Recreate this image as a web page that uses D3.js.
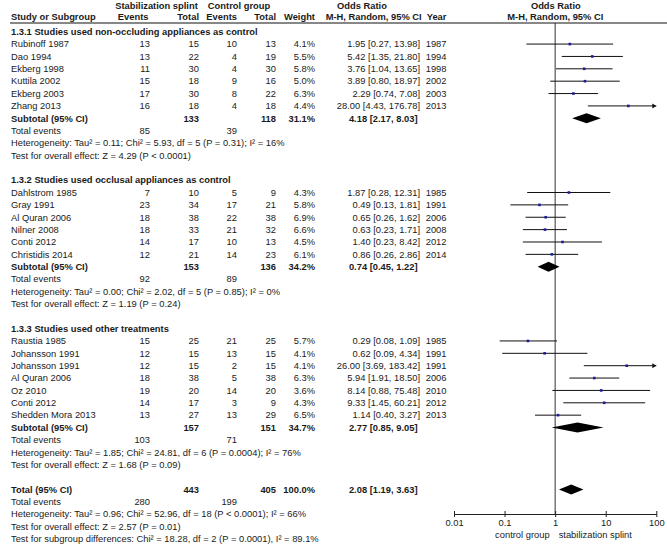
<!DOCTYPE html>
<html><head><meta charset="utf-8">
<script src="https://cdn.jsdelivr.net/npm/d3@7"></script>
<style>
body{margin:0;background:#fff;}
svg text{font-family:"Liberation Sans",Arial,Helvetica,sans-serif;font-size:9.35px;fill:#1a1a1a;}
svg text.b{font-weight:bold;}
</style></head><body>
<svg id="c" width="667" height="549"></svg>
<script>
// ---------- data ----------
const groupTitles = [
  "1.3.1 Studies used non-occluding appliances as control",
  "1.3.2 Studies used occlusal appliances as control",
  "1.3.3 Studies used other treatments"
];
const studyNames = [
  ["Rubinoff 1987","Dao 1994","Ekberg 1998","Kuttila 2002","Ekberg 2003","Zhang 2013"],
  ["Dahlstrom 1985","Gray 1991","Al Quran 2006","Nilner 2008","Conti 2012","Christidis 2014"],
  ["Raustia 1985","Johansson 1991","Johansson 1991","Al Quran 2006","Oz 2010","Conti 2012","Shedden Mora 2013"]
];
const studyYears = [
  ["1987","1994","1998","2002","2003","2013"],
  ["1985","1991","2006","2008","2012","2014"],
  ["1985","1991","1991","2006","2010","2012","2013"]
];
const splintEvents  = [[13,13,11,15,17,16],[7,23,18,18,14,12],[15,12,12,18,19,14,13]];
const splintTotals  = [[15,22,30,18,30,18],[10,34,38,33,17,21],[25,15,15,38,20,17,27]];
const controlEvents = [[10,4,4,9,8,4],[5,17,22,21,10,14],[21,13,2,5,14,3,13]];
const controlTotals = [[13,19,30,16,22,18],[9,21,38,32,13,23],[25,15,15,38,20,9,29]];
const weights = [
  ["4.1%","5.5%","5.8%","5.0%","6.3%","4.4%"],
  ["4.3%","5.8%","6.9%","6.6%","4.5%","6.1%"],
  ["5.7%","4.1%","4.1%","6.3%","3.6%","4.3%","6.5%"]
];
const oddsRatio = [[1.95,5.42,3.76,3.89,2.29,28.00],[1.87,0.49,0.65,0.63,1.40,0.86],[0.29,0.62,26.00,5.94,8.14,9.33,1.14]];
const ciLower   = [[0.27,1.35,1.04,0.80,0.74,4.43],[0.28,0.13,0.26,0.23,0.23,0.26],[0.08,0.09,3.69,1.91,0.88,1.45,0.40]];
const ciUpper   = [[13.98,21.80,13.65,18.97,7.08,176.78],[12.31,1.81,1.62,1.71,8.42,2.86],[1.09,4.34,183.42,18.50,75.48,60.21,3.27]];

const subtotalSplint  = [133,153,157];
const subtotalControl = [118,136,151];
const subtotalWeight  = ["31.1%","34.2%","34.7%"];
const subtotalOR      = [4.18,0.74,2.77];
const subtotalLower   = [2.17,0.45,0.85];
const subtotalUpper   = [8.03,1.22,9.05];
const totalEventsSplint  = [85,92,103];
const totalEventsControl = [39,89,71];
const heterogeneityText = [
  "Heterogeneity: Tau² = 0.11; Chi² = 5.93, df = 5 (P = 0.31); I² = 16%",
  "Heterogeneity: Tau² = 0.00; Chi² = 2.02, df = 5 (P = 0.85); I² = 0%",
  "Heterogeneity: Tau² = 1.85; Chi² = 24.81, df = 6 (P = 0.0004); I² = 76%"
];
const overallEffectText = [
  "Test for overall effect: Z = 4.29 (P < 0.0001)",
  "Test for overall effect: Z = 1.19 (P = 0.24)",
  "Test for overall effect: Z = 1.68 (P = 0.09)"
];
const totalSplint = 443, totalControl = 405, totalWeight = "100.0%";
const totalOR = 2.08, totalLower = 1.19, totalUpper = 3.63;
const totalEvents = [280,199];
const totalHeterogeneity = "Heterogeneity: Tau² = 0.96; Chi² = 52.96, df = 18 (P < 0.0001); I² = 66%";
const totalOverallEffect = "Test for overall effect: Z = 2.57 (P = 0.01)";
const subgroupDifferences = "Test for subgroup differences: Chi² = 18.28, df = 2 (P = 0.0001), I² = 89.1%";
const tickValues = [0.01,0.1,1,10,100];
const tickLabels = ["0.01","0.1","1","10","100"];
const axisLabels = ["control group","stabilization splint"];

// ---------- build rows ----------
const rows = [];
groupTitles.forEach((t,g)=>{
  rows.push({type:"group",label:t});
  studyNames[g].forEach((n,i)=>rows.push({type:"study",label:n,year:studyYears[g][i],
    e1:splintEvents[g][i],n1:splintTotals[g][i],e2:controlEvents[g][i],n2:controlTotals[g][i],
    w:weights[g][i],or:oddsRatio[g][i],lo:ciLower[g][i],hi:ciUpper[g][i]}));
  rows.push({type:"sub",label:"Subtotal (95% CI)",n1:subtotalSplint[g],n2:subtotalControl[g],w:subtotalWeight[g],
    or:subtotalOR[g],lo:subtotalLower[g],hi:subtotalUpper[g]});
  rows.push({type:"te",label:"Total events",e1:totalEventsSplint[g],e2:totalEventsControl[g]});
  rows.push({type:"text",label:heterogeneityText[g]});
  rows.push({type:"text",label:overallEffectText[g]});
  rows.push({type:"blank"});
});
rows.push({type:"sub",label:"Total (95% CI)",n1:totalSplint,n2:totalControl,w:totalWeight,or:totalOR,lo:totalLower,hi:totalUpper});
rows.push({type:"te",label:"Total events",e1:totalEvents[0],e2:totalEvents[1]});
rows.push({type:"text",label:totalHeterogeneity});
rows.push({type:"text",label:totalOverallEffect});
rows.push({type:"text",label:subgroupDifferences});

// ---------- scales ----------
const y = d3.scaleLinear().domain([0,1]).range([31.7,44.07]);
const x = d3.scaleLog().domain([0.01,100]).range([454,656.3]);
const BL = 3.3; // baseline offset from row centre
const col = {label:11, e1:150, n1:199, e2:237, n2:276, w:315, ci:420, ciB:417.5, year:425.7};
const fmt = v=>v.toFixed(2);
const ciText = r=>`${fmt(r.or)} [${fmt(r.lo)}, ${fmt(r.hi)}]`;

const svg = d3.select("#c");
const txt = (xx,yy,s,anchor,bold)=>svg.append("text").attr("x",xx).attr("y",yy)
  .attr("text-anchor",anchor||"start").attr("class",bold?"b":null).text(s);

// headers
txt(156.5,8.8,"Stabilization splint","middle",true);
txt(239,8.8,"Control group","middle",true);
txt(337,8.8,"Odds Ratio","start",true);
txt(555.8,8.8,"Odds Ratio","middle",true);
txt(11,19.9,"Study or Subgroup","start",true);
txt(148.5,19.9,"Events","end",true);
txt(199,19.9,"Total","end",true);
txt(237,19.9,"Events","end",true);
txt(276,19.9,"Total","end",true);
txt(315,19.9,"Weight","end",true);
txt(421.7,19.9,"M-H, Random, 95% CI","end",true);
txt(426.7,19.9,"Year","start",true);
txt(555.3,19.9,"M-H, Random, 95% CI","middle",true);
svg.append("line").attr("x1",10).attr("x2",667).attr("y1",23).attr("y2",23)
  .attr("stroke","#111").attr("stroke-width",1);

// vertical null line
const axisY = 514;
svg.append("line").attr("x1",x(1)).attr("x2",x(1)).attr("y1",23).attr("y2",axisY)
  .attr("stroke","#333").attr("stroke-width",1);

// rows
rows.forEach((r,i)=>{
  const cy = y(i), by = cy+BL;
  if(r.type==="group"){ txt(col.label,by,r.label,"start",true); }
  else if(r.type==="study"){
    txt(col.label,by,r.label);
    txt(col.e1,by,r.e1,"end"); txt(col.n1,by,r.n1,"end");
    txt(col.e2,by,r.e2,"end"); txt(col.n2,by,r.n2,"end");
    txt(col.w,by,r.w,"end"); txt(col.ci,by,ciText(r),"end"); txt(col.year,by,r.year);
    const hiC = Math.min(r.hi,100);
    svg.append("line").attr("x1",x(r.lo)).attr("x2",x(hiC)).attr("y1",cy).attr("y2",cy)
      .attr("stroke","#111").attr("stroke-width",1);
    if(r.hi>100){
      const ax=x(100);
      svg.append("path").attr("d",`M${ax},${cy} L${ax-4},${cy-2.5} L${ax-4},${cy+2.5} Z`).attr("fill","#111");
    }
    svg.append("rect").attr("x",x(r.or)-1.3).attr("y",cy-1.3).attr("width",2.6).attr("height",2.6)
      .attr("fill","#1c1c9c");
  }
  else if(r.type==="sub"){
    txt(col.label,by,r.label,"start",true);
    txt(col.n1,by,r.n1,"end",true); txt(col.n2,by,r.n2,"end",true);
    txt(col.w,by,r.w,"end",true); txt(col.ciB,by,ciText(r),"end",true);
    svg.append("path").attr("d",`M${x(r.lo)},${cy} L${x(r.or)},${cy-5} L${x(r.hi)},${cy} L${x(r.or)},${cy+5} Z`)
      .attr("fill","#000");
  }
  else if(r.type==="te"){
    txt(col.label,by,r.label);
    txt(col.e1,by,r.e1,"end"); txt(col.e2,by,r.e2,"end");
  }
  else if(r.type==="text"){ txt(col.label,by,r.label); }
});

// axis
const axis = d3.axisBottom(x).tickValues(tickValues).tickFormat((d,i)=>tickLabels[i]).tickSize(3).tickSizeOuter(0);
const g = svg.append("g").attr("transform",`translate(0,${axisY})`).call(axis);
g.select(".domain").attr("stroke","#222");
g.selectAll(".tick line").attr("y1",-3).attr("y2",3).attr("stroke","#222");
g.selectAll(".tick text").attr("y",5).attr("dy","0.71em")
  .style("font-family",'"Liberation Sans",Arial,sans-serif').style("font-size","9.35px").attr("fill","#1a1a1a");
txt(x(1)-5.5,537.6,axisLabels[0],"end");
txt(x(1)+3.5,537.6,axisLabels[1],"start");
</script>
</body></html>
